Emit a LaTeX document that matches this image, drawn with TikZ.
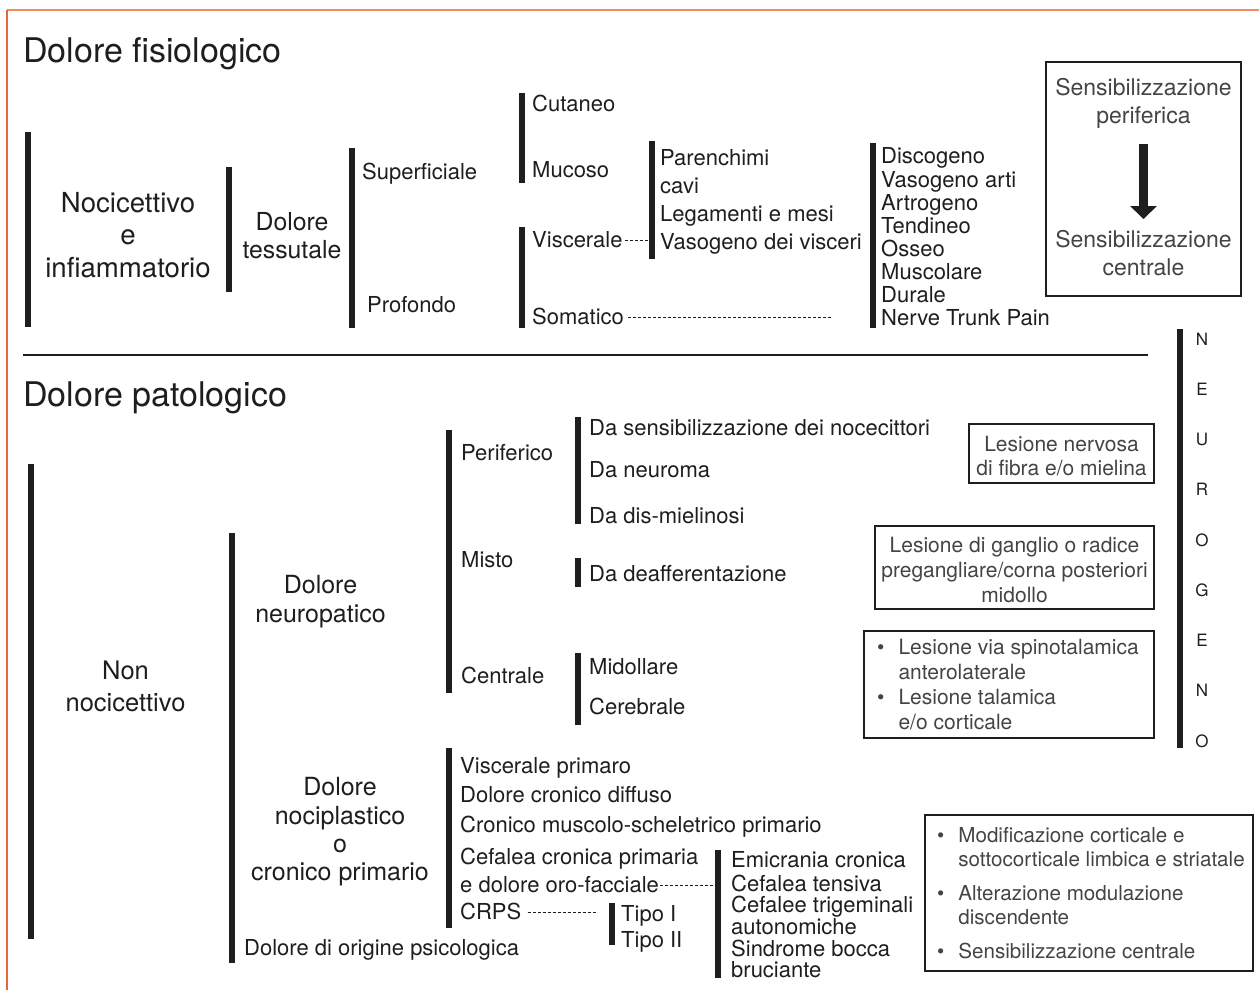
\documentclass[tikz,border=0pt]{standalone}
\usepackage{fontspec}
\setmainfont{TeX Gyre Heros}
\usetikzlibrary{arrows.meta}
\definecolor{frametop}{RGB}{242,140,98}
\definecolor{frameleft}{RGB}{236,100,62}
\definecolor{ink}{RGB}{30,30,30}
\definecolor{soft}{RGB}{68,68,68}

\tikzset{
    bar/.style={line width=6pt, ink},
    dotline/.style={ink, line width=1pt, dash pattern=on 3pt off 2pt},
    ttl/.style={anchor=west, inner sep=0pt, text height=24.5pt, text depth=0pt,
        font=\fontsize{34}{38}\selectfont, ink},
    lbl/.style={anchor=west, inner sep=0pt, text height=15.8pt, text depth=0pt,
        font=\fontsize{22}{24}\selectfont, ink},
    big/.style={inner sep=0pt, align=center, ink},
    frame/.style={draw=ink, line width=1.5pt, inner sep=0pt},
    note/.style={inner sep=0pt, align=center, soft},
    ltr/.style={inner sep=0pt, font=\fontsize{17}{20}\selectfont, ink}
}

\begin{document}
\begin{tikzpicture}[x=1pt, y=-1pt]

    \useasboundingbox (0,0) rectangle (1259,990);
    \draw[line width=2.5pt, frametop] (7,10) -- (1259,10);
    \draw[line width=2pt, frameleft] (7,10) -- (7,990);

    % dolore fisiologico
    \node[ttl] (fisio) at (23,50) {Dolore fisiologico};

    \draw[bar] (28,132) -- (28,327);
    \node[big, font=\fontsize{27.6}{32.5}\selectfont] (nocic) at (128,235)
        {Nocicettivo\\e\\infiammatorio};
    \draw[bar] (229,167) -- (229,292);
    \node[big, font=\fontsize{24.8}{28}\selectfont] (tess) at (292,236)
        {Dolore\\tessutale};
    \draw[bar] (352,148) -- (352,328);
    \node[lbl] (superf) at (362,172) {Superficiale};
    \node[lbl] (prof) at (367,305) {Profondo};

    \draw[bar] (522,93) -- (522,183);
    \node[lbl] (cut) at (532,104) {Cutaneo};
    \node[lbl] (muc) at (532,170) {Mucoso};
    \draw[bar] (522,227) -- (522,328);
    \node[lbl] (visc) at (532,240) {Viscerale};
    \node[lbl] (soma) at (532,317) {Somatico};

    \coordinate (bvisc) at (652,141);
    \draw[bar] (bvisc) -- (652,259);
    \foreach \txt [count=\i] in {Parenchimi, cavi, Legamenti e mesi, Vasogeno dei visceri}
        \node[lbl] (vis\i) at (660, 130+28*\i) {\txt};
    \draw[dotline, shorten <=2pt, shorten >=3pt] (visc.east) -- (visc.east -| bvisc);

    \draw[bar] (873,143) -- (873,328);
    \foreach \txt [count=\i] in {Discogeno, Vasogeno arti, Artrogeno, Tendineo,
        Osseo, Muscolare, Durale, Nerve Trunk Pain}
        \node[lbl] (som\i) at (881, 132.9+23.1*\i) {\txt};
    \coordinate (somend) at (833,317);
    \draw[dotline, shorten <=4pt] (soma.east) -- (somend);

    \node[frame, minimum width=195pt, minimum height=234pt] (sbox) at (1143.5,179) {};
    \node[note, font=\fontsize{23}{28}\selectfont] (sper) at (1143.5,103)
        {Sensibilizzazione\\periferica};
    \node[note, font=\fontsize{23}{28}\selectfont] (scen) at (1143.5,253)
        {Sensibilizzazione\\centrale};
    \draw[line width=9pt, ink, -{Triangle[width=26pt, length=13pt]},
        shorten <=16pt, shorten >=11pt] (sper) -- (scen);

    \draw[line width=2.5pt, ink] (23,355) -- (1148,355);

    % dolore patologico
    \node[ttl] (pato) at (23,394) {Dolore patologico};

    \draw[bar] (1180,329) -- (1180,748);
    \foreach \l [count=\i] in {N, E, U, R, O, G, E, N, O}
        \node[ltr] (neu\i) at (1202, 339+50.25*\i-50.25) {\l};

    \draw[bar] (31,464) -- (31,939);
    \node[big, font=\fontsize{25.5}{32}\selectfont] (nonnoc) at (125.5,686)
        {Non\\nocicettivo};
    \draw[bar] (232,533) -- (232,963);
    \node[big, font=\fontsize{25}{29}\selectfont] (neuro) at (320.5,602)
        {Dolore\\neuropatico};

    \draw[bar] (449,430) -- (449,693);
    \node[lbl] (perif) at (461,453) {Periferico};
    \node[lbl] (misto) at (461,560) {Misto};
    \node[lbl] (centr) at (461,676) {Centrale};

    \draw[bar] (578,417) -- (578,524);
    \node[lbl] (dasens) at (589,428) {Da sensibilizzazione dei nocecittori};
    \node[lbl] (daneur) at (589,470) {Da neuroma};
    \node[lbl] (dadis) at (589,516) {Da dis-mielinosi};
    \draw[bar] (578,558) -- (578,587);
    \node[lbl] (dadeaf) at (589,574) {Da deafferentazione};
    \draw[bar] (578,653) -- (578,725);
    \node[lbl] (midol) at (589,667) {Midollare};
    \node[lbl] (cereb) at (589,707) {Cerebrale};

    \node[frame, minimum width=185pt, minimum height=59pt] (lbox) at (1061.5,453.5) {};
    \node[note, font=\fontsize{21}{24.5}\selectfont] (ltxt) at (1061.5,456)
        {Lesione nervosa\\di fibra e/o mielina};
    \node[frame, minimum width=279pt, minimum height=83pt] (gbox) at (1014.5,567.5) {};
    \node[note, font=\fontsize{21}{25}\selectfont] (gtxt) at (1014.5,570)
        {Lesione di ganglio o radice\\pregangliare/corna posteriori\\midollo};
    \node[frame, minimum width=290pt, minimum height=107pt] (tbox) at (1009,684.5) {};
    \node[note, anchor=west, font=\fontsize{21}{25}\selectfont] (ttxt) at (877,687)
        {\begin{tabular}{@{}l@{\hspace{14pt}}l@{}}
            \textbullet & Lesione via spinotalamica\\
                        & anterolaterale\\
            \textbullet & Lesione talamica\\
                        & e/o corticale
        \end{tabular}};

    \node[big, font=\fontsize{25}{28.3}\selectfont] (nocip) at (340,832)
        {Dolore\\nociplastico\\o\\cronico primario};
    \node[lbl] (psico) at (244,948) {Dolore di origine psicologica};

    \draw[bar] (449,748) -- (449,928);
    \node[lbl] (vpri) at (460,766) {Viscerale primaro};
    \node[lbl] (cdif) at (460,795) {Dolore cronico diffuso};
    \node[lbl] (cmus) at (460,825) {Cronico muscolo-scheletrico primario};
    \node[lbl] (cefa) at (460,857) {Cefalea cronica primaria};
    \node[lbl] (orof) at (460,885) {e dolore oro-facciale};
    \node[lbl] (crps) at (460,912) {CRPS};

    \coordinate (btipo) at (612,903);
    \draw[bar] (btipo) -- (612,945);
    \node[lbl] (tipo1) at (621,914) {Tipo I};
    \node[lbl] (tipo2) at (621,940) {Tipo II};
    \draw[dotline, shorten <=6pt, shorten >=15pt] (crps.east) -- (crps.east -| btipo);

    \coordinate (bcef) at (718,850);
    \draw[bar] (bcef) -- (718,978);
    \node[lbl] (emic) at (731,860) {Emicrania cronica};
    \node[lbl] (tens) at (731,884) {Cefalea tensiva};
    \node[lbl] (trig) at (731,905) {Cefalee trigeminali};
    \node[lbl] (auto) at (731,927) {autonomiche};
    \node[lbl] (sind) at (731,949) {Sindrome bocca};
    \node[lbl] (bruc) at (731,970) {bruciante};
    \draw[dotline, shorten <=1pt, shorten >=4pt] (orof.east) -- (orof.east -| bcef);

    \node[frame, minimum width=328pt, minimum height=156pt] (mbox) at (1089,893) {};
    \node[note, anchor=west, font=\fontsize{20.6}{24}\selectfont] (mtxt) at (937,896)
        {\begin{tabular}{@{}l@{\hspace{14pt}}l@{}}
            \textbullet & Modificazione corticale e\\
                        & sottocorticale limbica e striatale\\[10pt]
            \textbullet & Alterazione modulazione\\
                        & discendente\\[10pt]
            \textbullet & Sensibilizzazione centrale
        \end{tabular}};

\end{tikzpicture}
\end{document}
